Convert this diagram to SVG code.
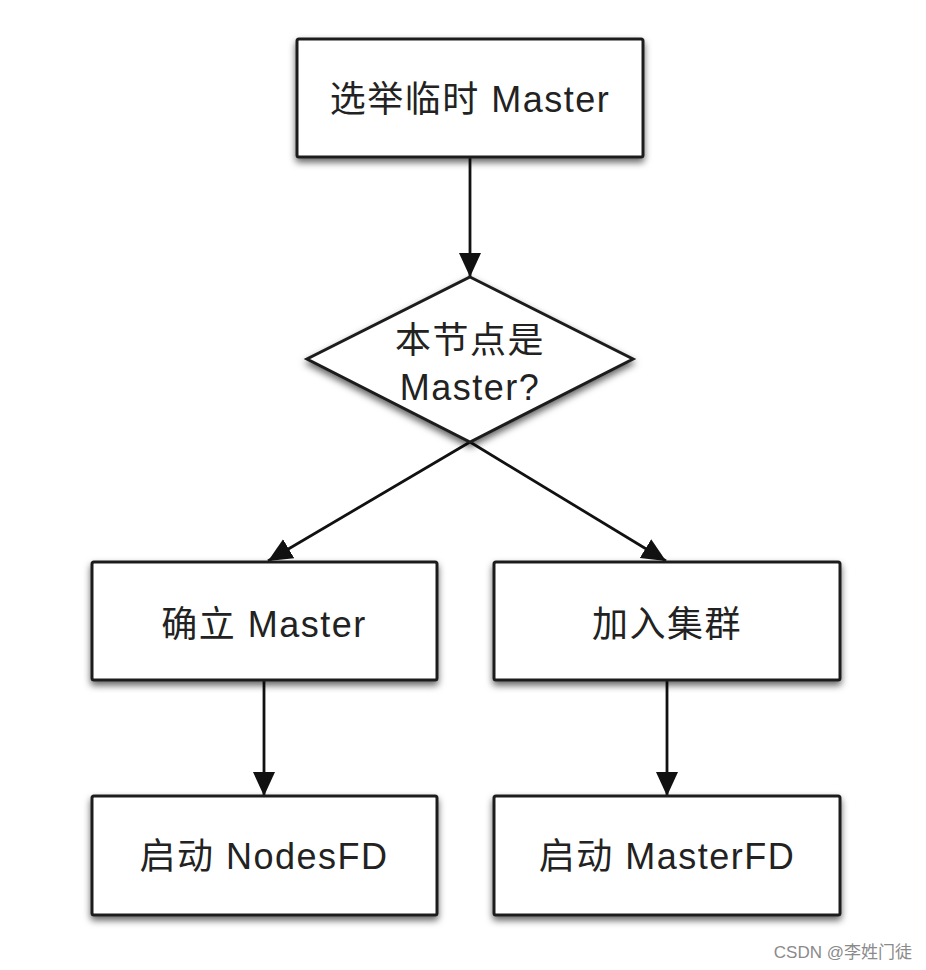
<svg xmlns="http://www.w3.org/2000/svg" width="926" height="970" viewBox="0 0 926 970">
<defs>
<filter id="sh" x="-10%" y="-10%" width="120%" height="135%">
<feDropShadow dx="0" dy="4" stdDeviation="3.5" flood-color="#000" flood-opacity="0.6"/>
</filter>
<marker id="ah" markerUnits="userSpaceOnUse" markerWidth="26" markerHeight="24" refX="24" refY="11" orient="auto">
<path d="M0,0 L24,11 L0,22 Z" fill="#111"/>
</marker>
<style>
.box{fill:#fff;stroke:#1e1e1e;stroke-width:3;filter:url(#sh)}
.lbl{font-family:"Liberation Sans","Noto Sans CJK SC",sans-serif;font-size:36px;fill:#222;text-anchor:middle;letter-spacing:1.5px}
.con{stroke:#111;stroke-width:2.8;fill:none;marker-end:url(#ah)}
.wm{font-family:"Liberation Sans","Noto Sans CJK SC",sans-serif;font-size:17px;fill:#8a8a8a;text-anchor:end}
</style>
</defs>
<rect width="926" height="970" fill="#fff"/>
<g id="connectors">
<line class="con" x1="470" y1="158" x2="470" y2="277"/>
<line class="con" x1="470" y1="442" x2="268" y2="561"/>
<line class="con" x1="470" y1="442" x2="666" y2="561"/>
<line class="con" x1="264" y1="681" x2="264" y2="796"/>
<line class="con" x1="667" y1="681" x2="667" y2="796"/>
</g>
<g id="n1">
<rect class="box" x="297" y="39" width="346" height="118" rx="2"/>
<text class="lbl" x="470" y="112">选举临时 Master</text>
</g>
<g id="n2">
<polygon class="box" points="470,277 633,359 470,442 307,359"/>
<text class="lbl" x="470" y="353">本节点是</text>
<text class="lbl" x="470" y="400">Master?</text>
</g>
<g id="n3">
<rect class="box" x="92" y="562" width="345" height="118" rx="2"/>
<text class="lbl" x="264" y="637">确立 Master</text>
</g>
<g id="n4">
<rect class="box" x="494" y="562" width="346" height="118" rx="2"/>
<text class="lbl" x="667" y="637">加入集群</text>
</g>
<g id="n5">
<rect class="box" x="92" y="796" width="345" height="119" rx="2"/>
<text class="lbl" x="264" y="869">启动 NodesFD</text>
</g>
<g id="n6">
<rect class="box" x="494" y="796" width="346" height="119" rx="2"/>
<text class="lbl" x="667" y="869">启动 MasterFD</text>
</g>
<text class="wm" x="912" y="958">CSDN @李姓门徒</text>
</svg>
